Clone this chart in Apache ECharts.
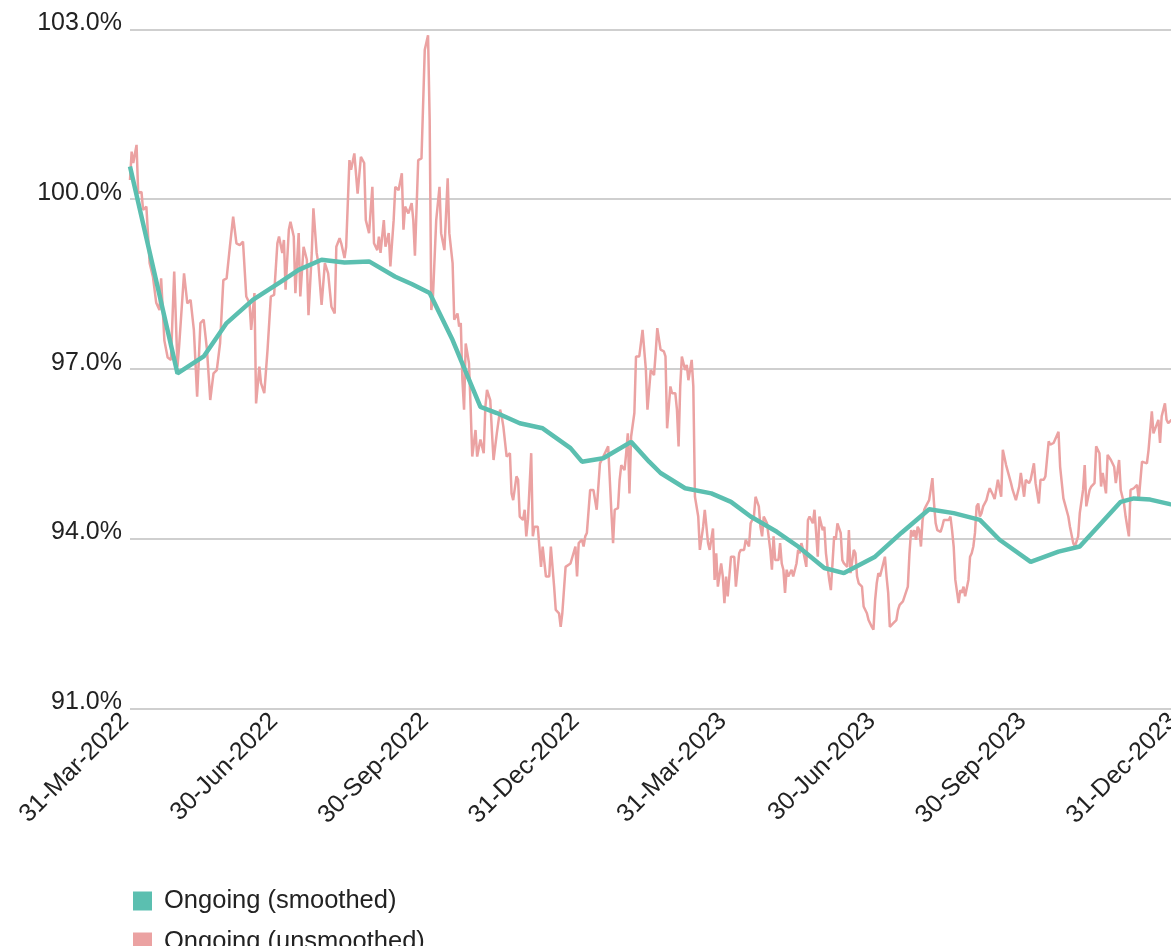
<!DOCTYPE html>
<html><head><meta charset="utf-8">
<script src="https://cdn.jsdelivr.net/npm/echarts@6/dist/echarts.min.js"></script>
<style>html,body{margin:0;padding:0;overflow:hidden;background:#fff}#c{width:1260px;height:1000px}</style>
</head><body><div id="c"></div><script>
const seriesNames = ['Ongoing (smoothed)', 'Ongoing (unsmoothed)'];
const tickDates = ['2022-03-31','2022-06-30','2022-09-30','2022-12-31','2023-03-31','2023-06-30','2023-09-30','2023-12-31'];
const tickLabels = ['31-Mar-2022','30-Jun-2022','30-Sep-2022','31-Dec-2022','31-Mar-2023','30-Jun-2023','30-Sep-2023','31-Dec-2023'];
const xStart = '2022-03-31', xEnd = '2024-01-31';
const yMin = 91, yMax = 103, yStep = 3;

const smoothed = [
['2022-03-31',100.58],['2022-04-29',96.92],['2022-05-15',97.22],['2022-05-29',97.81],['2022-06-14',98.22],
['2022-07-01',98.54],['2022-07-12',98.75],['2022-07-26',98.93],['2022-08-09',98.88],['2022-08-24',98.90],
['2022-09-09',98.63],['2022-09-19',98.50],['2022-09-30',98.34],['2022-10-14',97.51],['2022-10-19',97.16],
['2022-10-31',96.33],['2022-11-10',96.22],['2022-11-24',96.04],['2022-12-08',95.95],['2022-12-25',95.60],
['2023-01-01',95.36],['2023-01-14',95.42],['2023-01-31',95.71],['2023-02-11',95.36],['2023-02-18',95.16],
['2023-03-05',94.89],['2023-03-21',94.80],['2023-04-02',94.65],['2023-04-14',94.39],['2023-04-30',94.12],
['2023-05-13',93.86],['2023-05-29',93.48],['2023-06-10',93.39],['2023-06-29',93.68],['2023-07-15',94.10],
['2023-08-01',94.52],['2023-08-16',94.45],['2023-09-01',94.33],['2023-09-13',93.98],['2023-10-02',93.59],
['2023-10-19',93.77],['2023-11-01',93.86],['2023-11-14',94.27],['2023-11-26',94.65],['2023-12-04',94.71],
['2023-12-14',94.69],['2023-12-26',94.61],['2023-12-31',94.58]
];

const unsmoothed = [
['2022-03-31',100.34],['2022-04-01',100.84],['2022-04-02',100.64],['2022-04-04',100.96],['2022-04-05',100.11],
['2022-04-07',100.13],['2022-04-08',99.81],['2022-04-10',99.87],['2022-04-12',98.87],['2022-04-14',98.63],
['2022-04-16',98.17],['2022-04-18',98.04],['2022-04-19',98.60],['2022-04-21',97.50],['2022-04-23',97.20],
['2022-04-25',97.16],['2022-04-27',98.72],['2022-04-29',97.04],['2022-04-30',97.40],['2022-05-03',98.69],
['2022-05-05',98.16],['2022-05-07',98.22],['2022-05-09',97.69],['2022-05-11',96.51],['2022-05-13',97.81],
['2022-05-15',97.87],['2022-05-17',97.34],['2022-05-19',96.45],['2022-05-21',96.92],['2022-05-23',96.98],
['2022-05-25',97.45],['2022-05-27',98.57],['2022-05-29',98.60],['2022-05-31',99.16],['2022-06-02',99.69],
['2022-06-04',99.22],['2022-06-06',99.19],['2022-06-08',99.25],['2022-06-10',98.28],['2022-06-12',98.16],
['2022-06-13',97.69],['2022-06-15',98.34],['2022-06-16',96.39],['2022-06-18',97.04],['2022-06-19',96.75],
['2022-06-21',96.57],['2022-06-23',97.34],['2022-06-25',98.28],['2022-06-27',98.31],['2022-06-29',99.22],
['2022-06-30',99.34],['2022-07-02',99.05],['2022-07-03',99.28],['2022-07-04',98.40],['2022-07-06',99.46],
['2022-07-07',99.60],['2022-07-09',99.34],['2022-07-10',98.34],['2022-07-12',99.40],['2022-07-13',98.28],
['2022-07-15',99.16],['2022-07-17',98.93],['2022-07-18',97.95],['2022-07-20',99.05],['2022-07-21',99.84],
['2022-07-23',99.05],['2022-07-24',98.87],['2022-07-26',98.13],['2022-07-28',98.87],['2022-07-30',98.69],
['2022-08-01',98.10],['2022-08-03',97.98],['2022-08-04',99.16],['2022-08-06',99.31],['2022-08-07',99.22],
['2022-08-09',98.96],['2022-08-10',99.16],['2022-08-12',100.69],['2022-08-13',100.52],['2022-08-15',100.81],
['2022-08-17',100.10],['2022-08-19',100.75],['2022-08-21',100.64],['2022-08-22',99.63],['2022-08-24',99.40],
['2022-08-26',100.22],['2022-08-27',99.22],['2022-08-29',99.10],['2022-08-30',99.34],['2022-08-31',99.05],
['2022-09-02',99.63],['2022-09-03',99.16],['2022-09-05',99.40],['2022-09-06',98.81],['2022-09-08',99.63],
['2022-09-09',100.22],['2022-09-11',100.16],['2022-09-13',100.46],['2022-09-14',99.46],['2022-09-15',99.87],
['2022-09-17',99.75],['2022-09-19',99.93],['2022-09-20',99.63],['2022-09-21',99.00],['2022-09-23',100.69],
['2022-09-25',100.72],['2022-09-26',100.75],['2022-09-27',102.64],['2022-09-29',102.90],['2022-09-30',101.40],
['2022-10-01',98.04],['2022-10-02',98.28],['2022-10-04',99.63],['2022-10-06',100.22],['2022-10-07',99.40],
['2022-10-09',99.10],['2022-10-11',100.37],['2022-10-12',99.40],['2022-10-14',98.87],['2022-10-15',97.87],
['2022-10-17',97.98],['2022-10-18',97.75],['2022-10-19',97.81],['2022-10-20',96.80],['2022-10-21',96.28],
['2022-10-22',97.45],['2022-10-23',97.28],['2022-10-24',97.10],['2022-10-25',96.33],['2022-10-26',95.45],
['2022-10-28',95.92],['2022-10-29',95.45],['2022-10-31',95.75],['2022-11-02',95.51],['2022-11-03',96.33],
['2022-11-04',96.63],['2022-11-06',96.45],['2022-11-07',95.90],['2022-11-08',95.39],['2022-11-10',95.86],
['2022-11-12',96.28],['2022-11-13',96.16],['2022-11-14',95.98],['2022-11-16',95.45],['2022-11-18',95.51],
['2022-11-19',94.80],['2022-11-20',94.68],['2022-11-22',95.10],['2022-11-23',95.04],['2022-11-24',94.39],
['2022-11-26',94.33],['2022-11-27',94.51],['2022-11-28',94.04],['2022-11-29',94.33],['2022-12-01',95.51],
['2022-12-02',94.04],['2022-12-03',94.21],['2022-12-05',94.21],['2022-12-07',93.50],['2022-12-08',93.86],
['2022-12-10',93.33],['2022-12-12',93.33],['2022-12-13',93.86],['2022-12-15',93.15],['2022-12-16',92.74],
['2022-12-18',92.68],['2022-12-19',92.44],['2022-12-20',92.68],['2022-12-22',93.50],['2022-12-23',93.53],
['2022-12-25',93.56],['2022-12-26',93.56],['2022-12-28',93.86],['2022-12-29',93.33],['2022-12-30',93.92],
['2023-01-01',93.98],['2023-01-02',93.86],['2023-01-03',94.04],['2023-01-04',94.10],['2023-01-06',94.86],
['2023-01-07',94.89],['2023-01-08',94.86],['2023-01-10',94.51],['2023-01-11',94.92],['2023-01-12',95.33],
['2023-01-14',95.45],['2023-01-15',95.51],['2023-01-17',95.63],['2023-01-18',95.04],['2023-01-19',94.45],
['2023-01-20',93.92],['2023-01-21',94.51],['2023-01-23',94.54],['2023-01-24',95.04],['2023-01-25',95.30],
['2023-01-27',95.21],['2023-01-28',95.51],['2023-01-29',95.86],['2023-01-30',94.80],['2023-01-31',95.80],
['2023-02-02',96.22],['2023-02-03',97.22],['2023-02-05',97.22],['2023-02-07',97.69],['2023-02-09',97.00],
['2023-02-10',96.28],['2023-02-12',96.98],['2023-02-14',96.89],['2023-02-15',97.28],['2023-02-16',97.72],
['2023-02-18',97.34],['2023-02-20',97.31],['2023-02-21',97.22],['2023-02-22',95.95],['2023-02-24',96.69],
['2023-02-25',96.57],['2023-02-27',96.57],['2023-02-28',96.28],['2023-03-01',95.63],['2023-03-02',96.69],
['2023-03-03',97.22],['2023-03-05',96.98],['2023-03-06',97.07],['2023-03-07',96.80],['2023-03-09',97.16],
['2023-03-10',96.69],['2023-03-11',94.74],['2023-03-13',94.39],['2023-03-14',93.80],['2023-03-16',94.21],
['2023-03-17',94.51],['2023-03-19',93.92],['2023-03-20',93.80],['2023-03-22',94.18],['2023-03-23',93.27],
['2023-03-24',93.74],['2023-03-25',93.15],['2023-03-27',93.56],['2023-03-28',93.33],['2023-03-29',92.86],
['2023-03-30',93.33],['2023-03-31',92.98],['2023-04-02',93.68],['2023-04-04',93.68],['2023-04-05',93.15],
['2023-04-07',93.74],['2023-04-08',93.80],['2023-04-10',93.80],['2023-04-11',93.98],['2023-04-13',93.86],
['2023-04-14',94.27],['2023-04-16',94.39],['2023-04-17',94.74],['2023-04-19',94.57],['2023-04-20',94.21],
['2023-04-21',94.04],['2023-04-22',94.39],['2023-04-23',94.39],['2023-04-24',94.27],['2023-04-26',93.80],
['2023-04-27',93.45],['2023-04-28',94.04],['2023-04-29',93.62],['2023-05-01',93.62],['2023-05-02',93.92],
['2023-05-03',93.56],['2023-05-04',93.45],['2023-05-05',93.04],['2023-05-06',93.45],['2023-05-07',93.33],
['2023-05-09',93.45],['2023-05-10',93.33],['2023-05-12',93.56],['2023-05-13',93.80],['2023-05-14',93.74],
['2023-05-15',93.92],['2023-05-16',93.80],['2023-05-18',93.50],['2023-05-19',94.33],['2023-05-20',94.39],
['2023-05-22',94.27],['2023-05-23',94.51],['2023-05-25',93.68],['2023-05-26',94.39],['2023-05-28',94.15],
['2023-05-29',94.21],['2023-05-30',93.74],['2023-05-31',93.50],['2023-06-01',93.27],['2023-06-02',93.09],
['2023-06-04',94.04],['2023-06-05',93.98],['2023-06-06',94.27],['2023-06-08',94.10],['2023-06-09',93.62],
['2023-06-10',93.56],['2023-06-12',93.50],['2023-06-13',94.15],['2023-06-14',93.39],['2023-06-16',93.80],
['2023-06-17',93.74],['2023-06-18',93.33],['2023-06-19',93.21],['2023-06-21',93.15],['2023-06-22',92.80],
['2023-06-24',92.68],['2023-06-25',92.56],['2023-06-27',92.44],['2023-06-28',92.39],['2023-06-29',92.91],
['2023-06-30',93.21],['2023-07-01',93.39],['2023-07-02',93.33],['2023-07-03',93.33],['2023-07-05',93.68],
['2023-07-06',93.33],['2023-07-07',93.04],['2023-07-08',92.44],['2023-07-09',92.44],['2023-07-10',92.50],
['2023-07-12',92.56],['2023-07-13',92.74],['2023-07-14',92.83],['2023-07-16',92.89],['2023-07-17',92.91],
['2023-07-19',93.15],['2023-07-20',93.74],['2023-07-21',94.15],['2023-07-22',94.04],['2023-07-23',94.15],
['2023-07-24',93.98],['2023-07-25',94.21],['2023-07-26',94.15],['2023-07-27',93.86],['2023-07-28',94.33],
['2023-07-29',94.51],['2023-07-30',94.57],['2023-08-01',94.68],['2023-08-03',95.07],['2023-08-04',94.62],
['2023-08-05',94.27],['2023-08-06',94.15],['2023-08-08',94.12],['2023-08-09',94.21],['2023-08-10',94.33],
['2023-08-11',94.30],['2023-08-13',94.33],['2023-08-14',94.39],['2023-08-15',94.15],['2023-08-16',93.86],
['2023-08-17',93.27],['2023-08-19',92.86],['2023-08-20',93.09],['2023-08-21',93.04],['2023-08-22',93.15],
['2023-08-23',92.98],['2023-08-25',93.27],['2023-08-26',93.68],['2023-08-27',93.74],['2023-08-28',93.86],
['2023-08-29',94.10],['2023-08-30',94.57],['2023-08-31',94.62],['2023-09-01',94.39],['2023-09-02',94.45],
['2023-09-03',94.57],['2023-09-04',94.60],['2023-09-05',94.68],['2023-09-06',94.80],['2023-09-07',94.89],
['2023-09-09',94.77],['2023-09-10',94.70],['2023-09-12',95.04],['2023-09-13',95.04],['2023-09-14',94.74],
['2023-09-15',95.57],['2023-09-17',95.30],['2023-09-18',95.33],['2023-09-20',94.98],['2023-09-21',94.86],
['2023-09-23',94.68],['2023-09-25',94.92],['2023-09-26',95.16],['2023-09-28',94.74],['2023-09-29',95.04],
['2023-10-01',94.98],['2023-10-02',95.04],['2023-10-04',95.33],['2023-10-05',94.98],['2023-10-07',94.62],
['2023-10-08',95.04],['2023-10-10',95.04],['2023-10-11',95.10],['2023-10-13',95.72],['2023-10-14',95.66],
['2023-10-16',95.69],['2023-10-17',95.72],['2023-10-19',95.89],['2023-10-20',95.27],['2023-10-22',94.71],
['2023-10-23',94.68],['2023-10-25',94.39],['2023-10-26',94.21],['2023-10-28',93.92],['2023-10-29',93.86],
['2023-10-31',94.04],['2023-11-01',94.45],['2023-11-03',94.86],['2023-11-04',95.30],['2023-11-05',94.57],
['2023-11-07',94.86],['2023-11-08',94.92],['2023-11-10',94.98],['2023-11-11',95.63],['2023-11-13',95.51],
['2023-11-14',94.92],['2023-11-15',95.16],['2023-11-17',94.80],['2023-11-18',95.48],['2023-11-20',95.39],
['2023-11-22',95.27],['2023-11-23',94.98],['2023-11-25',95.39],['2023-11-26',94.86],['2023-11-28',94.62],
['2023-11-29',94.39],['2023-11-30',94.21],['2023-12-01',94.04],['2023-12-02',94.86],['2023-12-04',94.89],
['2023-12-05',94.86],['2023-12-06',94.95],['2023-12-07',94.68],['2023-12-09',95.36],['2023-12-10',95.39],
['2023-12-12',95.33],['2023-12-13',95.57],['2023-12-15',96.25],['2023-12-16',95.86],['2023-12-17',95.86],
['2023-12-19',96.10],['2023-12-20',95.69],['2023-12-21',96.16],['2023-12-23',96.39],['2023-12-24',96.10],
['2023-12-25',96.04],['2023-12-27',96.10],['2023-12-29',96.00]
];

const FONT = '"Liberation Sans", Arial, sans-serif';
const toTime = d => +echarts.time.parse(d);
const tickTimes = tickDates.map(toTime);
const labelByTime = {};
tickTimes.forEach((t, i) => { labelByTime[t] = tickLabels[i]; });
const toPoints = arr => arr.map(p => [toTime(p[0]), p[1]]);

const chart = echarts.init(document.getElementById('c'), null, {renderer: 'canvas'});
chart.setOption({
  animation: false,
  backgroundColor: '#fff',
  grid: {left: 130, top: 29.5, right: 31.2, bottom: 291.7, outerBoundsMode: 'none', containLabel: false},
  legend: {
    orient: 'vertical', left: 128, top: 883, itemWidth: 19, itemHeight: 19, itemGap: 15,
    icon: 'rect', data: seriesNames,
    textStyle: {fontFamily: FONT, fontSize: 25.5, color: '#222', padding: [0, 0, 0, 7]}
  },
  xAxis: {
    type: 'value', min: toTime(xStart), max: toTime(xEnd),
    axisLine: {show: false}, axisTick: {show: false}, splitLine: {show: false},
    axisLabel: {
      customValues: tickTimes, rotate: 45, margin: 4, hideOverlap: false,
      padding: [0, 7, 0, 0],
      fontFamily: FONT, fontSize: 25, color: '#222',
      formatter: v => labelByTime[v] || ''
    }
  },
  yAxis: {
    type: 'value', min: yMin, max: yMax, interval: yStep,
    axisLine: {show: false}, axisTick: {show: false},
    splitLine: {lineStyle: {color: '#cfcfcf', width: 2}},
    axisLabel: {
      margin: 8, fontFamily: FONT, fontSize: 25, color: '#222',
      verticalAlign: 'bottom', lineHeight: 12,
      formatter: v => v.toFixed(1) + '%'
    }
  },
  series: [
    {name: seriesNames[0], type: 'line', data: toPoints(smoothed), showSymbol: false, z: 3,
     lineStyle: {color: '#5bbfb0', width: 4.5}, itemStyle: {color: '#5bbfb0'}},
    {name: seriesNames[1], type: 'line', data: toPoints(unsmoothed), showSymbol: false, z: 2,
     lineStyle: {color: '#eba2a2', width: 2.5}, itemStyle: {color: '#eba2a2'}}
  ]
});
</script></body></html>
